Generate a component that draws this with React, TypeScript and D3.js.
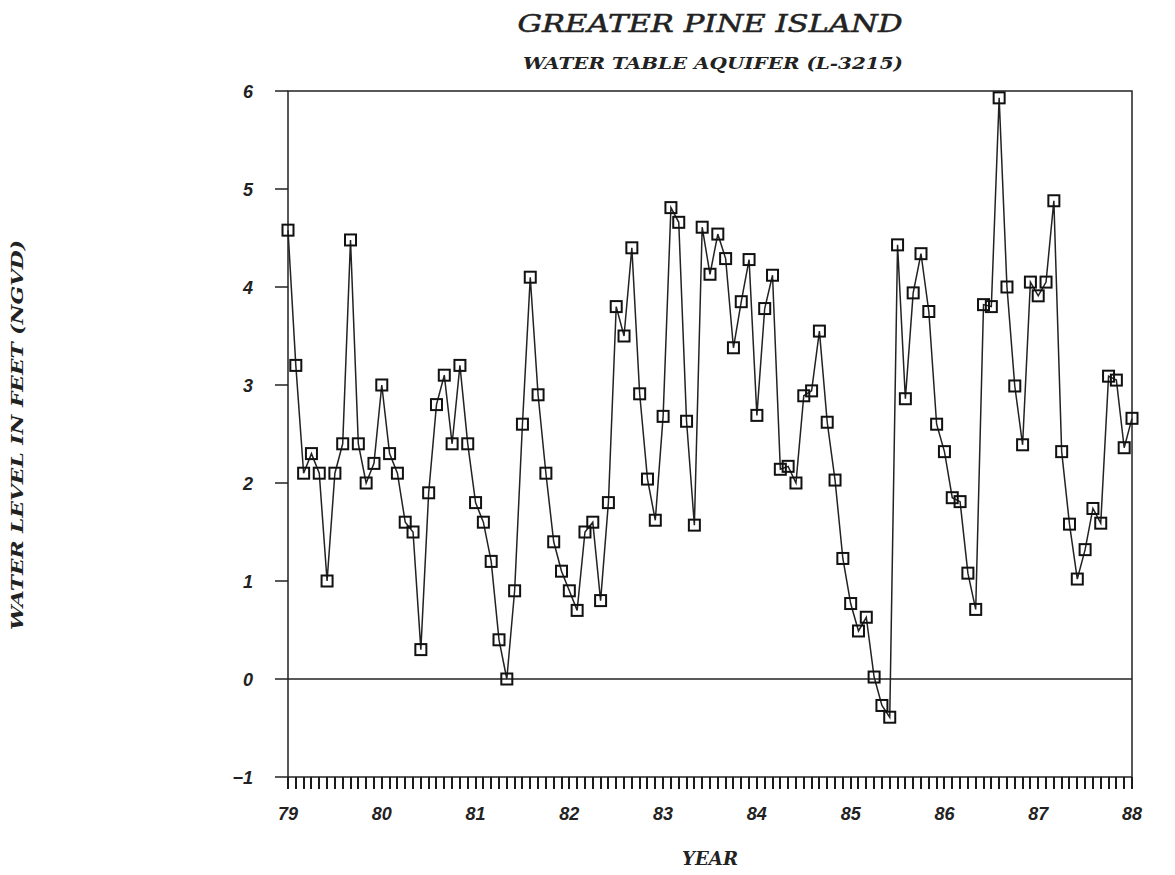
import React from 'react';
import * as d3 from 'd3';

// monthly readings, Jan 1979 .. Jan 1988
const levels = [
  4.58, 3.2, 2.1, 2.3, 2.1, 1.0, 2.1, 2.4, 4.48, 2.4, 2.0, 2.2,
  3.0, 2.3, 2.1, 1.6, 1.5, 0.3, 1.9, 2.8, 3.1, 2.4, 3.2, 2.4,
  1.8, 1.6, 1.2, 0.4, 0.0, 0.9, 2.6, 4.1, 2.9, 2.1, 1.4, 1.1,
  0.9, 0.7, 1.5, 1.6, 0.8, 1.8, 3.8, 3.5, 4.4, 2.91, 2.04, 1.62,
  2.68, 4.81, 4.66, 2.63, 1.57, 4.61, 4.13, 4.54, 4.29, 3.38, 3.85, 4.28,
  2.69, 3.78, 4.12, 2.14, 2.17, 2.0, 2.89, 2.94, 3.55, 2.62, 2.03, 1.23,
  0.77, 0.49, 0.63, 0.02, -0.27, -0.39, 4.43, 2.86, 3.94, 4.34, 3.75, 2.6,
  2.32, 1.85, 1.81, 1.08, 0.71, 3.82, 3.8, 5.93, 4.0, 2.99, 2.39, 4.05,
  3.91, 4.05, 4.88, 2.32, 1.58, 1.02, 1.32, 1.74, 1.59, 3.09, 3.05, 2.36,
  2.66,
];
const yearLabels = ['79', '80', '81', '82', '83', '84', '85', '86', '87', '88'];
const yTicks = [-1, 0, 1, 2, 3, 4, 5, 6];

const W = 1175, H = 875;
const left = 288, right = 1132, top = 91, bottom = 777;

const serif = '"DejaVu Serif", serif';
const sans = '"Liberation Sans", Arial, sans-serif';

export default function App() {
  const x = d3.scaleLinear().domain([0, levels.length - 1]).range([left, right]);
  const y = d3.scaleLinear().domain([-1, 6]).range([bottom, top]);

  const line = d3.line<number>()
    .x((d, i) => x(i))
    .y(d => y(d));

  const monthTicks = d3.range(levels.length);
  const sq = 11;

  return (
    <svg width={W} height={H} style={{ position: 'absolute', left: 0, top: 0, background: '#fff' }}>
      <text x={710} y={32} textAnchor="middle" fontFamily={serif} fontStyle="italic" fontSize={24}
        textLength={385} lengthAdjust="spacingAndGlyphs" fill="#222" stroke="#222" strokeWidth={0.5}>GREATER PINE ISLAND</text>
      <text x={713} y={69} textAnchor="middle" fontFamily={serif} fontStyle="italic" fontWeight="bold" fontSize={17}
        textLength={380} lengthAdjust="spacingAndGlyphs" fill="#222">WATER TABLE AQUIFER (L-3215)</text>

      {/* frame */}
      <rect x={left} y={top} width={right - left} height={bottom - top} fill="none" stroke="#222" strokeWidth={1.5} />
      <line x1={left} x2={right} y1={y(0)} y2={y(0)} stroke="#222" strokeWidth={1.5} />

      {/* y axis */}
      {yTicks.map(t => (
        <g key={'y' + t}>
          <line x1={left - 13} x2={left} y1={y(t)} y2={y(t)} stroke="#222" strokeWidth={1.5} />
          <text x={253} y={y(t) + 7} textAnchor="end" fontFamily={sans} fontStyle="italic" fontWeight="bold"
            fontSize={18} fill="#222">{t === -1 ? '\u22121' : t}</text>
        </g>
      ))}

      {/* x axis, one tick per month */}
      <g fill="#1a1a1a">
        {monthTicks.map(i => (
          <rect key={'m' + i} x={Math.round(x(i)) - 1} y={bottom} width={2} height={12} />
        ))}
      </g>
      {yearLabels.map((lab, k) => (
        <text key={'l' + lab} x={x(k * 12)} y={820} textAnchor="middle" fontFamily={sans} fontStyle="italic"
          fontWeight="bold" fontSize={18} fill="#222">{lab}</text>
      ))}

      <text x={710} y={865} textAnchor="middle" fontFamily={serif} fontStyle="italic" fontWeight="bold"
        fontSize={18} textLength={56} lengthAdjust="spacingAndGlyphs" fill="#222">YEAR</text>
      <text transform="translate(23,435) rotate(-90)" textAnchor="middle" fontFamily={serif} fontStyle="italic"
        fontWeight="bold" fontSize={17} textLength={390} lengthAdjust="spacingAndGlyphs" fill="#222">
        WATER LEVEL IN FEET (NGVD)
      </text>

      {/* series */}
      <path d={line(levels) || ''} fill="none" stroke="#222" strokeWidth={1.5} />
      {levels.map((v, i) => (
        <rect key={'p' + i} x={x(i) - sq / 2} y={y(v) - sq / 2} width={sq} height={sq} fill="none" stroke="#111" strokeWidth={2} />
      ))}
    </svg>
  );
}
